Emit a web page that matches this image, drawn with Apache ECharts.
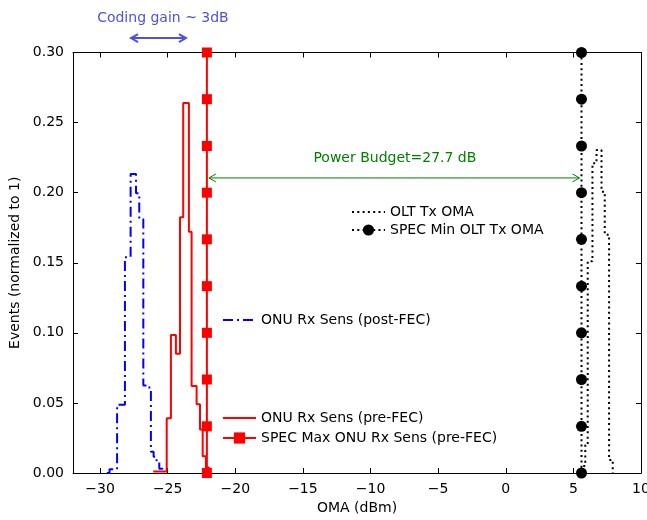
<!DOCTYPE html>
<html>
<head>
<meta charset="utf-8">
<script src="https://cdn.jsdelivr.net/npm/echarts@6/dist/echarts.min.js"></script>
<style>html,body{margin:0;padding:0;background:#fff}#c{width:647px;height:520px}</style>
</head>
<body>
<div id="c"></div>
<script>
// ---- data ----
var blueX = [-29.5, -29.3, -28.74, -28.16, -27.74, -27.34, -27.10, -26.80, -26.45, -26.24, -26.04, -25.82, -25.62, -25.38];
var blueY = [0, 0.0026, 0.0487, 0.154, 0.2133, 0.1995, 0.181, 0.0625, 0.061, 0.0152, 0.0116, 0.008, 0.003, 0];
var redX = [-26.07, -25.07, -24.76, -24.39, -24.09, -23.85, -23.43, -23.23, -22.86, -22.61, -22.41, -22.17, -21.95];
var redY = [0.001, 0.039, 0.0985, 0.085, 0.1824, 0.264, 0.1722, 0.062, 0.049, 0.031, 0.012, 0.004, 0];
var blackX = [5.73, 5.88, 6.06, 6.41, 6.71, 7.08, 7.32, 7.64, 7.91];
var blackY = [0.005, 0.02, 0.151, 0.221, 0.2304, 0.2007, 0.17, 0.0093, 0];
var specOnuX = -22.1;
var specOltX = 5.6;
var specY = [0, 0.0333, 0.0667, 0.1, 0.1333, 0.1667, 0.2, 0.2333, 0.2667, 0.3];
var xTicks = [-30, -25, -20, -15, -10, -5, 0, 5, 10];
var yTicks = [0, 0.05, 0.1, 0.15, 0.2, 0.25, 0.3];
var seriesNames = ['ONU Rx Sens (post-FEC)', 'ONU Rx Sens (pre-FEC)', 'SPEC Max ONU Rx Sens (pre-FEC)', 'OLT Tx OMA', 'SPEC Min OLT Tx OMA'];
var budgetText = 'Power Budget=27.7 dB';
var budgetArrow = [[-21.95, 0.2105], [5.45, 0.2105]];
var budgetTextPos = [-8.2, 0.2247];
var gainText = 'Coding gain ~ 3dB';
var gainArrow = [[-27.71, 0.3103], [-23.65, 0.3103]];
var gainTextPos = [-25.35, 0.3245];

function pairs(xs, ys) { return xs.map(function (x, i) { return [x, ys[i]]; }); }
function vline(x, ys) { return ys.map(function (y) { return [x, y]; }); }

var FONT = 'DejaVu Sans';
var chart = echarts.init(document.getElementById('c'), null, { renderer: 'canvas' });

var axisCommon = {
  axisLine: { show: true, onZero: false, lineStyle: { color: '#000', width: 1 } },
  axisTick: { show: true, inside: true, length: 5, lineStyle: { color: '#000', width: 1 } },
  splitLine: { show: false }
};
var legendText = { fontSize: 14, color: '#000', fontFamily: FONT };
var noMarker = { opacity: 0 };

var option = {
  backgroundColor: '#fff',
  animation: false,
  textStyle: { fontFamily: FONT },
  grid: { left: 73, right: 6, top: 52.5, bottom: 47, containLabel: false, outerBoundsMode: 'none' },
  xAxis: [
    Object.assign({}, axisCommon, {
      type: 'value', min: -32, max: 10, position: 'bottom',
      axisTick: Object.assign({}, axisCommon.axisTick, { customValues: xTicks }),
      axisLabel: { customValues: xTicks, color: '#000', fontSize: 14, fontFamily: FONT, margin: 9,
        formatter: function (v) { return String(v).replace('-', '\u2212'); } },
      name: 'OMA (dBm)', nameLocation: 'middle', nameGap: 27,
      nameTextStyle: { color: '#000', fontSize: 14, fontFamily: FONT }
    }),
    Object.assign({}, axisCommon, {
      type: 'value', min: -32, max: 10, position: 'top',
      axisTick: Object.assign({}, axisCommon.axisTick, { customValues: xTicks }),
      axisLabel: { show: false }
    })
  ],
  yAxis: [
    Object.assign({}, axisCommon, {
      type: 'value', min: 0, max: 0.3, position: 'left',
      axisTick: Object.assign({}, axisCommon.axisTick, { customValues: yTicks }),
      axisLabel: { customValues: yTicks, color: '#000', fontSize: 14, fontFamily: FONT, margin: 9,
        formatter: function (v) { return v.toFixed(2); } },
      name: 'Events (normalized to 1)', nameLocation: 'middle', nameGap: 47,
      nameTextStyle: { color: '#000', fontSize: 14, fontFamily: FONT }
    }),
    Object.assign({}, axisCommon, {
      type: 'value', min: 0, max: 0.3, position: 'right',
      axisTick: Object.assign({}, axisCommon.axisTick, { customValues: yTicks }),
      axisLabel: { show: false }
    })
  ],
  legend: [
    { data: [{ name: seriesNames[3], itemStyle: noMarker }, seriesNames[4]], orient: 'vertical', left: 351, top: 205, padding: 0,
      itemWidth: 33, itemHeight: 14, itemGap: 4, textStyle: legendText },
    { data: [{ name: seriesNames[0], itemStyle: noMarker }], orient: 'vertical', left: 222, top: 313, padding: 0,
      itemWidth: 33, itemHeight: 14, itemGap: 4, textStyle: legendText },
    { data: [{ name: seriesNames[1], itemStyle: noMarker }, seriesNames[2]], orient: 'vertical', left: 222, top: 411, padding: 0,
      itemWidth: 33, itemHeight: 14, itemGap: 6, textStyle: legendText }
  ],
  series: [
    { name: seriesNames[0], type: 'line', step: 'end', data: pairs(blueX, blueY), symbol: 'none',
      lineStyle: { color: '#0000ff', width: 2, type: [10, 4, 2, 4] }, itemStyle: { color: '#0000ff' }, z: 2 },
    { name: seriesNames[1], type: 'line', step: 'end', data: pairs(redX, redY), symbol: 'none',
      lineStyle: { color: '#ff0000', width: 2 }, itemStyle: { color: '#ff0000' }, z: 3 },
    { name: seriesNames[2], type: 'line', data: vline(specOnuX, specY), symbol: 'rect', symbolSize: 10,
      showAllSymbol: true, lineStyle: { color: '#ff0000', width: 2 }, itemStyle: { color: '#ff0000' }, z: 4 },
    { name: seriesNames[3], type: 'line', step: 'end', data: pairs(blackX, blackY), symbol: 'none',
      lineStyle: { color: '#000', width: 2, type: [2, 3.3] }, itemStyle: { color: '#000' }, z: 3 },
    { name: seriesNames[4], type: 'line', data: vline(specOltX, specY), symbol: 'circle', symbolSize: 11,
      showAllSymbol: true, lineStyle: { color: '#000', width: 2, type: [2, 3.3] }, itemStyle: { color: '#000' }, z: 4 }
  ]
};
chart.setOption(option);

function px(p) { return chart.convertToPixel({ xAxisIndex: 0, yAxisIndex: 0 }, p); }
function arrowEls(a, b, color, w) {
  var p1 = px(a), p2 = px(b), hl = 7, hw = 4;
  return [
    { type: 'line', shape: { x1: p1[0], y1: p1[1], x2: p2[0], y2: p2[1] }, style: { stroke: color, lineWidth: w } },
    { type: 'polyline', shape: { points: [[p1[0] + hl, p1[1] - hw], [p1[0], p1[1]], [p1[0] + hl, p1[1] + hw]] }, style: { stroke: color, lineWidth: w, fill: null } },
    { type: 'polyline', shape: { points: [[p2[0] - hl, p2[1] - hw], [p2[0], p2[1]], [p2[0] - hl, p2[1] + hw]] }, style: { stroke: color, lineWidth: w, fill: null } }
  ];
}
var gp = px(gainTextPos), bp = px(budgetTextPos);
var els = [].concat(
  arrowEls(budgetArrow[0], budgetArrow[1], '#008000', 1),
  arrowEls(gainArrow[0], gainArrow[1], '#5050dd', 2),
  [
    { type: 'text', x: bp[0], y: bp[1], style: { text: budgetText, fill: '#008000', font: '14px "DejaVu Sans"', align: 'center', verticalAlign: 'middle' } },
    { type: 'text', x: gp[0], y: gp[1], style: { text: gainText, fill: '#5050dd', font: '14px "DejaVu Sans"', align: 'center', verticalAlign: 'middle' } }
  ]
);
chart.setOption({ graphic: els.map(function (e) { e.z = 100; return e; }) });
</script>
</body>
</html>
